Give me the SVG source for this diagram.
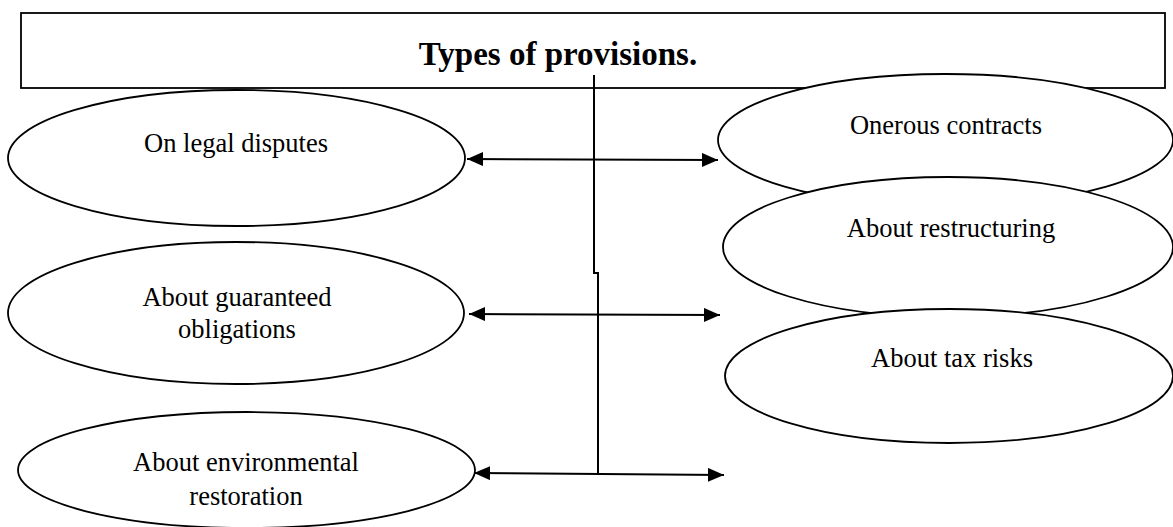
<svg xmlns="http://www.w3.org/2000/svg" width="1173" height="527" viewBox="0 0 1173 527">
  <style>
    .box { fill: #ffffff; stroke: #000000; stroke-width: 1.8; }
    .oval { fill: #ffffff; stroke: #000000; stroke-width: 1.8; }
    .title { font-family: "Liberation Serif", "Times New Roman", serif; font-size: 33px; font-weight: bold; fill: #000000; text-anchor: middle; }
    .label { font-family: "Liberation Serif", "Times New Roman", serif; font-size: 26.5px; fill: #000000; text-anchor: middle; }
    .wire { fill: none; stroke: #000000; stroke-width: 2; }
  </style>
  <defs>
    <marker id="head" viewBox="0 0 16 14" refX="16" refY="7" markerWidth="16" markerHeight="14" markerUnits="userSpaceOnUse" orient="auto-start-reverse">
      <path d="M0,0 L16,7 L0,14 z" fill="#000000"/>
    </marker>
  </defs>

  <rect width="1173" height="527" fill="#ffffff"/>

  <!-- heading box -->
  <g id="title">
    <rect class="box" x="21" y="13" width="1144" height="75"/>
    <text class="title" x="558" y="65">Types of provisions.</text>
  </g>

  <!-- left column -->
  <g id="legal-disputes">
    <ellipse class="oval" cx="236.5" cy="158" rx="228.5" ry="68"/>
    <text class="label" x="236" y="152">On legal disputes</text>
  </g>
  <g id="guaranteed-obligations">
    <ellipse class="oval" cx="236" cy="313" rx="228" ry="71"/>
    <text class="label" x="237" y="306">About guaranteed</text>
    <text class="label" x="237" y="338">obligations</text>
  </g>
  <g id="environmental-restoration">
    <ellipse class="oval" cx="246.5" cy="470" rx="228.5" ry="58"/>
    <text class="label" x="246" y="471">About environmental</text>
    <text class="label" x="246" y="505">restoration</text>
  </g>

  <!-- right column, each oval overlapping the one above -->
  <g id="onerous-contracts">
    <ellipse class="oval" cx="945.5" cy="140" rx="227.5" ry="66"/>
    <text class="label" x="946" y="134">Onerous contracts</text>
  </g>
  <g id="restructuring">
    <ellipse class="oval" cx="948" cy="247" rx="225" ry="70"/>
    <text class="label" x="951" y="237">About restructuring</text>
  </g>
  <g id="tax-risks">
    <ellipse class="oval" cx="949" cy="376" rx="224" ry="67"/>
    <text class="label" x="952" y="367">About tax risks</text>
  </g>

  <!-- connectors -->
  <g id="connectors">
    <path class="wire" d="M594,75 V273 H598 V473"/>
    <line class="wire" x1="467" y1="159" x2="718" y2="160" marker-start="url(#head)" marker-end="url(#head)"/>
    <line class="wire" x1="469" y1="314" x2="720" y2="315" marker-start="url(#head)" marker-end="url(#head)"/>
    <line class="wire" x1="474" y1="473" x2="724" y2="475" marker-start="url(#head)" marker-end="url(#head)"/>
  </g>
</svg>
